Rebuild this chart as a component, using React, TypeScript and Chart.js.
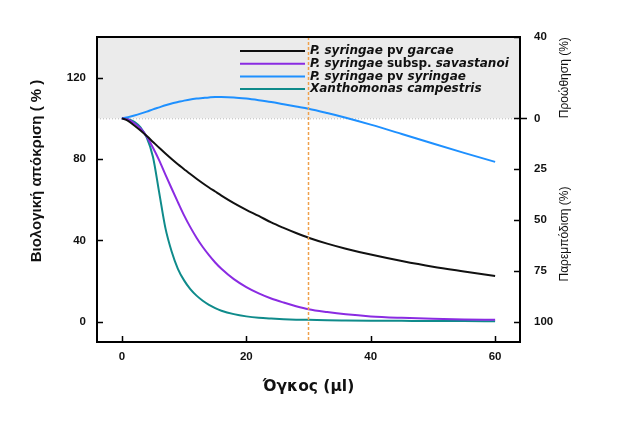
import React, { useEffect, useRef } from "react";
import { Chart, registerables } from "chart.js";

Chart.register(...registerables);

// ---- data ----
const volumes = [0, 1, 2, 3, 4, 5, 6, 7, 8, 9, 10, 11, 12, 13, 14, 15, 16, 18, 20, 22, 24, 26, 28, 30, 33, 36, 40, 45, 50, 55, 60];
const garcae = [100, 98.8, 96.5, 94, 91.3, 88.4, 85.5, 82.7, 80, 77.4, 75, 72.6, 70.3, 68.1, 66, 64, 62, 58.3, 55, 52, 48.8, 46.1, 43.6, 41.3, 38.4, 35.9, 33, 29.8, 27, 24.7, 22.5];
const savastanoi = [100, 99.4, 97.6, 95, 91, 85.5, 79.3, 72.3, 65.5, 58.8, 52.3, 46.5, 41.3, 36.7, 32.7, 29.1, 26, 20.9, 17, 13.9, 11.4, 9.4, 7.6, 6.1, 4.7, 3.6, 2.6, 1.9, 1.4, 1.1, 0.9];
const syringae = [100, 100.6, 101.4, 102.3, 103.3, 104.4, 105.4, 106.4, 107.3, 108, 108.7, 109.3, 109.7, 110, 110.3, 110.5, 110.5, 110.3, 109.7, 108.9, 108, 106.9, 105.8, 104.7, 102.6, 100.3, 96.9, 92.3, 87.6, 83, 78.6];
const campestris = [100, 99.6, 98.3, 95.5, 90.5, 81, 63.5, 46, 34.5, 26, 20.3, 16, 12.8, 10.3, 8.3, 6.7, 5.4, 3.7, 2.6, 1.9, 1.5, 1.2, 1.0, 0.9, 0.7, 0.6, 0.5, 0.4, 0.3, 0.3, 0.2];

const seriesNames = [
  "P. syringae pv garcae",
  "P. syringae subsp. savastanoi",
  "P. syringae pv syringae",
  "Xanthomonas campestris",
];
const seriesColors = ["#111111", "#8a2be2", "#1e90ff", "#0f8b8b"];

const xTicks = [0, 20, 40, 60];
const yTicks = [0, 40, 80, 120];
const inhibitionTicks = [0, 25, 50, 75, 100];
const promotionTicks = [0, 40];
const baseline = 100;
const markerVolume = 30;

const xTitle = "Όγκος (μl)";
const yTitle = "Βιολογική απόκριση ( % )";
const promotionTitle = "Προώθηση (%)";
const inhibitionTitle = "Παρεμπόδιση (%)";
const uprightWords = ["pv", "subsp."];

const rightTickValues = [
  ...inhibitionTicks.map((t) => baseline - t),
  ...promotionTicks.filter((t) => t !== 0).map((t) => baseline + t),
];

const toPoints = (ys: number[]) => ys.map((y, i) => ({ x: volumes[i], y }));

const tickFont = { family: "'Liberation Sans', Arial, sans-serif", size: 11.5, weight: "bold" as const };

const decorPlugin = {
  id: "decor",
  beforeDatasetsDraw(chart: any) {
    const { ctx, chartArea: a, scales } = chart;
    const yb = scales.y.getPixelForValue(baseline);
    ctx.save();
    ctx.fillStyle = "#ebebeb";
    ctx.fillRect(a.left, a.top, a.right - a.left, yb - a.top);
    ctx.strokeStyle = "#b8b8b8";
    ctx.lineWidth = 1;
    ctx.setLineDash([1, 2]);
    ctx.beginPath();
    ctx.moveTo(a.left, yb + 0.5);
    ctx.lineTo(a.right, yb + 0.5);
    ctx.stroke();
    ctx.restore();
  },
  afterDatasetsDraw(chart: any) {
    const { ctx, chartArea: a, scales } = chart;
    const { x, y, y2 } = scales;
    ctx.save();
    // orange marker line
    const xm = x.getPixelForValue(markerVolume);
    ctx.strokeStyle = "#f0a04a";
    ctx.lineWidth = 1.5;
    ctx.setLineDash([3, 2]);
    ctx.beginPath();
    ctx.moveTo(xm, a.top);
    ctx.lineTo(xm, a.bottom);
    ctx.stroke();
    ctx.setLineDash([]);

    // frame
    ctx.strokeStyle = "#000";
    ctx.lineWidth = 2;
    ctx.strokeRect(a.left, a.top, a.right - a.left, a.bottom - a.top);

    // inward ticks
    ctx.lineWidth = 1.5;
    const tl = 6;
    ctx.beginPath();
    yTicks.forEach((v) => {
      const p = Math.round(y.getPixelForValue(v)) + 0.5;
      ctx.moveTo(a.left, p);
      ctx.lineTo(a.left + tl, p);
    });
    xTicks.forEach((v) => {
      const p = Math.round(x.getPixelForValue(v)) + 0.5;
      ctx.moveTo(p, a.bottom);
      ctx.lineTo(p, a.bottom - tl);
    });
    rightTickValues.forEach((v) => {
      const p = Math.round(y2.getPixelForValue(v)) + 0.5;
      ctx.moveTo(a.right, p);
      ctx.lineTo(a.right - tl, p);
      if (v === baseline) {
        ctx.moveTo(a.right, p);
        ctx.lineTo(a.right + 7, p);
      }
    });
    ctx.stroke();

    // legend
    const lx0 = 240, lx1 = 305, tx = 310;
    const ly0 = 51, dy = 12.7;
    ctx.textBaseline = "middle";
    ctx.textAlign = "left";
    chart.data.datasets.forEach((ds: any, i: number) => {
      const yy = ly0 + i * dy;
      ctx.strokeStyle = ds.borderColor;
      ctx.lineWidth = 2;
      ctx.beginPath();
      ctx.moveTo(lx0, yy);
      ctx.lineTo(lx1, yy);
      ctx.stroke();
      let cx = tx;
      const words = String(ds.label).split(" ");
      words.forEach((w, k) => {
        const upright = uprightWords.includes(w);
        ctx.font = `${upright ? "" : "italic "}bold 12px 'DejaVu Sans', Verdana, sans-serif`;
        ctx.fillStyle = "#111";
        const s = k < words.length - 1 ? w + " " : w;
        ctx.fillText(s, cx, yy);
        cx += ctx.measureText(s).width;
      });
    });

    // axis titles
    ctx.fillStyle = "#111";
    ctx.textAlign = "center";
    ctx.textBaseline = "middle";
    ctx.font = "bold 15.5px 'DejaVu Sans', Verdana, sans-serif";
    ctx.fillText(xTitle, (a.left + a.right) / 2, 387);

    const rot = (text: string, cx: number, cy: number, font: string) => {
      ctx.save();
      ctx.translate(cx, cy);
      ctx.rotate(-Math.PI / 2);
      ctx.font = font;
      ctx.fillText(text, 0, 0);
      ctx.restore();
    };
    rot(yTitle, 37, 171, "bold 15px 'Liberation Sans', Arial, sans-serif");
    const yTop = a.top;
    const yBase = y2.getPixelForValue(baseline);
    rot(promotionTitle, 565, (yTop + yBase) / 2, "12px 'Liberation Sans', Arial, sans-serif");
    rot(inhibitionTitle, 565, 234, "12px 'Liberation Sans', Arial, sans-serif");
    ctx.restore();
  },
};

export default function App() {
  const ref = useRef<HTMLCanvasElement | null>(null);
  useEffect(() => {
    document.body.style.margin = "0";
    const canvas = ref.current;
    if (!canvas) return;
    const chart = new Chart(canvas, {
      type: "line",
      data: {
        datasets: [garcae, savastanoi, syringae, campestris].map((ys, i) => ({
          label: seriesNames[i],
          data: toPoints(ys),
          borderColor: seriesColors[i],
          backgroundColor: seriesColors[i],
          borderWidth: 2,
          pointRadius: 0,
          fill: false,
          cubicInterpolationMode: "monotone" as const,
        })),
      },
      options: {
        animation: false,
        responsive: false,
        layout: { padding: { top: 37, left: 0, right: 0, bottom: 0 } },
        plugins: { legend: { display: false }, tooltip: { enabled: false } },
        scales: {
          x: {
            type: "linear",
            position: "bottom",
            min: -4,
            max: 64,
            grid: { display: false, drawTicks: false },
            border: { display: false },
            afterBuildTicks: (s: any) => {
              s.ticks = xTicks.map((v) => ({ value: v }));
            },
            afterFit: (s: any) => {
              s.height = 79;
            },
            ticks: { font: tickFont, color: "#111", padding: 8, maxRotation: 0 },
          },
          y: {
            type: "linear",
            position: "left",
            min: -10,
            max: 140,
            grid: { display: false, drawTicks: false },
            border: { display: false },
            afterBuildTicks: (s: any) => {
              s.ticks = yTicks.map((v) => ({ value: v }));
            },
            afterFit: (s: any) => {
              s.width = 97;
            },
            ticks: { font: tickFont, color: "#111", padding: 11 },
          },
          y2: {
            type: "linear",
            position: "right",
            min: -10,
            max: 140,
            grid: { display: false, drawTicks: false },
            border: { display: false },
            afterBuildTicks: (s: any) => {
              s.ticks = rightTickValues.map((v) => ({ value: v }));
            },
            afterFit: (s: any) => {
              s.width = 115;
            },
            ticks: {
              font: tickFont,
              color: "#111",
              padding: 14,
              callback: (v: any) => String(v >= baseline ? v - baseline : baseline - v),
            },
          },
        },
      },
      plugins: [decorPlugin],
    });
    return () => chart.destroy();
  }, []);
  return (
    <div style={{ width: 635, height: 421, background: "#fff" }}>
      <canvas ref={ref} width={635} height={421} />
    </div>
  );
}
